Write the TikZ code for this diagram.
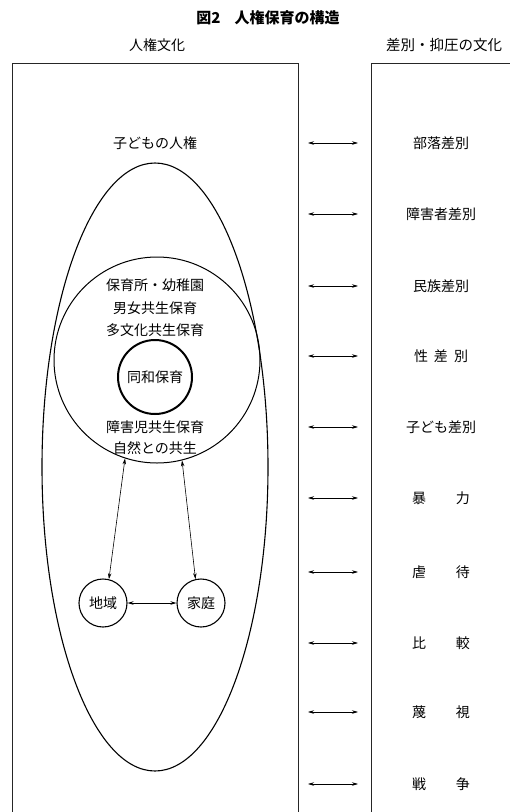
\documentclass[tikz,border=0pt]{standalone}
\usepackage{fontspec}
\setmainfont{Noto Sans CJK JP}
\usetikzlibrary{shapes.geometric,arrows.meta}
\begin{document}
\begin{tikzpicture}[x=1pt,y=-1pt,
  lbl/.style={inner sep=0pt,font=\fontsize{14}{14}\selectfont},
  frame/.style={line width=0.9pt,draw=black!85},
  dblarrow/.style={line width=0.6pt,{Stealth[length=6pt,width=3.5pt]}-{Stealth[length=6pt,width=3.5pt]}},
  smallcirc/.style={circle,draw,line width=1.1pt,minimum size=48pt,inner sep=0pt,font=\fontsize{14}{14}\selectfont}
]
\useasboundingbox (0,0) rectangle (510,812);
% title and headers
\node[lbl,font=\fontsize{15}{15}\selectfont\bfseries] (title) at (268,18) {図2\hspace{14pt}人権保育の構造};
\node[lbl] (hleft) at (157,45) {人権文化};
\node[lbl,font=\fontsize{14.5}{14.5}\selectfont] (hright) at (444,45) {差別・抑圧の文化};
% frames
\draw[frame] (12,812) -- (12,63) -- (298,63) -- (298,812);
\draw[frame] (371,812) -- (371,63) -- (510,63);
% left side structure
\node[lbl] (kodomo) at (155,143) {子どもの人権};
\node[ellipse,draw,line width=1.1pt,minimum width=226pt,minimum height=608pt,inner sep=0pt] (ell) at (155,467) {};
\node[circle,draw,line width=1pt,minimum size=206pt,inner sep=0pt] (big) at (157,360) {};
\node[lbl] (t1) at (155,285) {保育所・幼稚園};
\node[lbl] (t2) at (155,308) {男女共生保育};
\node[lbl] (t3) at (155,330) {多文化共生保育};
\node[circle,draw,line width=2pt,minimum size=74pt,inner sep=0pt,font=\fontsize{14}{14}\selectfont] (dowa) at (155,377) {同和保育};
\node[lbl] (t4) at (155,427) {障害児共生保育};
\node[lbl] (t5) at (155,448) {自然との共生};
\node[smallcirc] (chiiki) at (103,603) {地域};
\node[smallcirc] (katei) at (201,603) {家庭};
\draw[dblarrow] (big.252) -- (chiiki.76);
\draw[dblarrow] (big.284) -- (katei.103);
\draw[dblarrow] (chiiki) -- (katei);
% right side labels
\foreach \i/\y/\txt in {1/143/部落差別,2/214/障害者差別,3/286/民族差別,4/356/性\hspace{6pt}差\hspace{6pt}別,5/427/子ども差別,6/498/暴\hspace{30pt}力,7/572/虐\hspace{30pt}待,8/643/比\hspace{30pt}較,9/712/蔑\hspace{30pt}視,10/784/戦\hspace{30pt}争}{
  \node[lbl] (r\i) at (441,\y) {\txt};
  \coordinate (al\i) at (308,\y);
  \coordinate (ar\i) at (358,\y);
  \draw[dblarrow] (al\i) -- (ar\i);
}
\end{tikzpicture}
\end{document}
